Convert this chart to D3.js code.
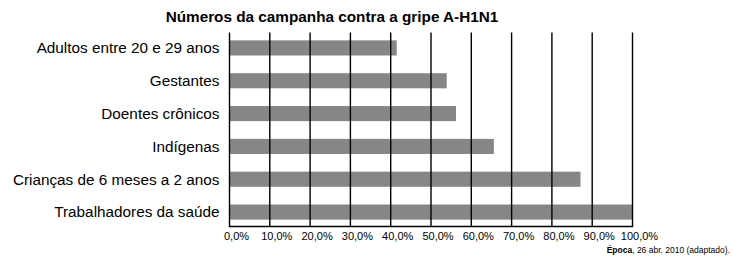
<!DOCTYPE html>
<html>
<head>
<meta charset="utf-8">
<script src="https://cdn.jsdelivr.net/npm/d3@7"></script>
<style>
  body { margin: 0; background: #fff; }
  svg { display: block; font-family: "Liberation Sans", Arial, sans-serif; }
</style>
</head>
<body>
<svg id="chart" width="733" height="264"></svg>
<script>
const WIDTH = 733, HEIGHT = 264;

// dane
const kategorie = [
  "Adultos entre 20 e 29 anos",
  "Gestantes",
  "Doentes crônicos",
  "Indígenas",
  "Crianças de 6 meses a 2 anos",
  "Trabalhadores da saúde"
];
const wartosci = [41.5, 53.9, 56.2, 65.6, 87.1, 100];
const ticki = [0, 10, 20, 30, 40, 50, 60, 70, 80, 90, 100];
const tickEtykiety = ["0,0%", "10,0%", "20,0%", "30,0%", "40,0%", "50,0%", "60,0%", "70,0%", "80,0%", "90,0%", "100,0%"];

const svg = d3.select("#chart");

const x = d3.scaleLinear().domain([0, 100]).range([229.5, 632.5]);
const y = d3.scaleBand().domain(kategorie).range([32.5, 227.5])
  .paddingInner(0.54).paddingOuter(0.24);
const gora = 32.5, dol = 226.5;

// tytuł
svg.append("text")
  .attr("x", 332).attr("y", 22)
  .attr("text-anchor", "middle")
  .attr("font-size", 15.3).attr("font-weight", "bold")
  .text("Números da campanha contra a gripe A-H1N1");

// słupki
svg.append("g").selectAll("rect")
  .data(kategorie)
  .join("rect")
  .attr("x", x(0))
  .attr("y", d => y(d))
  .attr("width", (d, i) => x(wartosci[i]) - x(0))
  .attr("height", y.bandwidth())
  .attr("fill", "#868686");

// linie siatki
svg.append("g").selectAll("line")
  .data(ticki)
  .join("line")
  .attr("x1", d => x(d)).attr("x2", d => x(d))
  .attr("y1", gora).attr("y2", dol)
  .attr("stroke", "#000").attr("stroke-width", 1.4);

// oś dolna
svg.append("line")
  .attr("x1", x(0) - 0.7).attr("x2", x(100) + 0.7)
  .attr("y1", dol).attr("y2", dol)
  .attr("stroke", "#000").attr("stroke-width", 1.4);

// etykiety osi x
svg.append("g").selectAll("text")
  .data(ticki)
  .join("text")
  .attr("x", d => x(d) + 7)
  .attr("y", 240)
  .attr("text-anchor", "middle")
  .attr("font-size", 11)
  .text((d, i) => tickEtykiety[i]);

// etykiety kategorii
svg.append("g").selectAll("text")
  .data(kategorie)
  .join("text")
  .attr("x", 219.5)
  .attr("y", d => y(d) + y.bandwidth() / 2)
  .attr("dy", "0.35em")
  .attr("text-anchor", "end")
  .attr("font-size", 15.3)
  .text(d => d);

// źródło
const zrodlo = svg.append("text")
  .attr("x", 730).attr("y", 252.5)
  .attr("text-anchor", "end")
  .attr("font-size", 8.5);
zrodlo.append("tspan").attr("font-weight", "bold").text("Época");
zrodlo.append("tspan").text(", 26 abr. 2010 (adaptado).");
</script>
</body>
</html>
